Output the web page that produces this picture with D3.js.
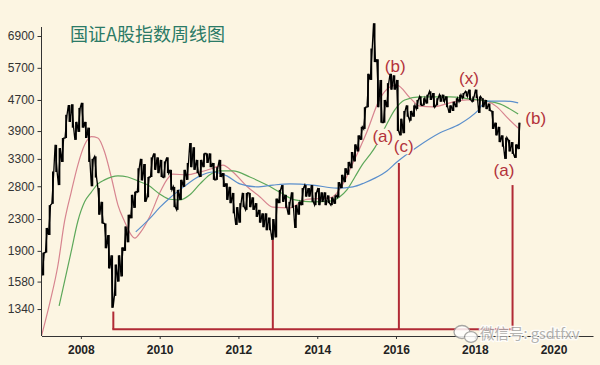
<!DOCTYPE html>
<html><head><meta charset="utf-8">
<script src="https://cdn.jsdelivr.net/npm/d3@7"></script>
<style>body{margin:0;background:#fcf5e2;overflow:hidden}</style>
</head><body>
<svg id="c" width="600" height="365"></svg>
<script>
// ---------- DATA ----------
const months = [
"2007-01","2007-02","2007-03","2007-04","2007-05","2007-06","2007-07","2007-08","2007-09","2007-10","2007-11","2007-12",
"2008-01","2008-02","2008-03","2008-04","2008-05","2008-06","2008-07","2008-08","2008-09","2008-10","2008-11","2008-12",
"2009-01","2009-02","2009-03","2009-04","2009-05","2009-06","2009-07","2009-08","2009-09","2009-10","2009-11","2009-12",
"2010-01","2010-02","2010-03","2010-04","2010-05","2010-06","2010-07","2010-08","2010-09","2010-10","2010-11","2010-12",
"2011-01","2011-02","2011-03","2011-04","2011-05","2011-06","2011-07","2011-08","2011-09","2011-10","2011-11","2011-12",
"2012-01","2012-02","2012-03","2012-04","2012-05","2012-06","2012-07","2012-08","2012-09","2012-10","2012-11","2012-12",
"2013-01","2013-02","2013-03","2013-04","2013-05","2013-06","2013-07","2013-08","2013-09","2013-10","2013-11","2013-12",
"2014-01","2014-02","2014-03","2014-04","2014-05","2014-06","2014-07","2014-08","2014-09","2014-10","2014-11","2014-12",
"2015-01","2015-02","2015-03","2015-04","2015-05","2015-06","2015-07","2015-08","2015-09","2015-10","2015-11","2015-12",
"2016-01","2016-02","2016-03","2016-04","2016-05","2016-06","2016-07","2016-08","2016-09","2016-10","2016-11","2016-12",
"2017-01","2017-02","2017-03","2017-04","2017-05","2017-06","2017-07","2017-08","2017-09","2017-10","2017-11","2017-12",
"2018-01","2018-02","2018-03","2018-04","2018-05","2018-06","2018-07","2018-08","2018-09","2018-10","2018-11","2018-12",
"2019-01","2019-02"];
const highs = [
1880,2180,2500,3060,3590,3520,3740,4300,4560,4580,4120,4480,
4620,4120,3980,3300,3350,2770,2550,2240,2090,1850,1750,1850,
1940,2200,2360,2660,2710,3120,3300,3200,2960,3330,3410,3330,
3280,3250,3330,3090,2790,2740,2910,3090,3220,3630,3540,3280,
3280,3410,3410,3410,3220,3140,3280,3030,2850,2790,2690,2470,
2530,2690,2690,2690,2620,2530,2430,2380,2380,2320,2300,2600,
2740,2820,2660,2550,2700,2500,2550,2770,2820,2770,2820,2700,
2770,2700,2700,2650,2620,2650,2870,3000,3120,3240,3440,3600,
3800,4000,4500,5500,6400,7450,6000,5300,4700,5200,5500,5450,
5300,4200,4400,4550,4400,4550,4700,4800,4750,4850,4950,4900,
4750,4850,4850,4800,4550,4650,4750,4850,4900,4950,5000,4800,
5000,4800,4750,4700,4600,4400,4100,4000,3800,3750,3700,3650,
3600,4100];
const lows = [
1640,1880,2090,2520,3050,2820,3240,3740,4120,3980,3700,3880,
3980,3740,3240,2800,2950,2360,2240,1930,1710,1350,1450,1580,
1630,1900,2000,2310,2460,2700,2900,2550,2620,2960,3090,3030,
2960,2950,3030,2740,2470,2430,2580,2790,2910,3140,3090,3030,
2960,3140,3220,3140,2910,2910,2960,2790,2580,2530,2380,2220,
2250,2470,2430,2470,2430,2330,2250,2190,2150,2150,2030,2060,
2530,2550,2460,2360,2460,2180,2360,2500,2630,2630,2550,2500,
2500,2550,2500,2530,2500,2520,2620,2770,2870,3000,3120,3250,
3450,3700,3950,4500,5300,5900,4500,4100,4100,4500,5000,5000,
3900,3800,3850,4250,4150,4250,4450,4550,4550,4600,4700,4500,
4550,4650,4650,4500,4350,4400,4500,4650,4750,4800,4700,4650,
4750,4350,4500,4450,4400,3950,3800,3650,3550,3300,3450,3400,
3320,3500];

// moving average lines
const maPinkDates = ["2007-01-01","2007-03-19","2007-06-02","2007-08-03","2007-10-03","2007-12-04","2008-02-05","2008-04-06","2008-06-07","2008-08-08","2008-10-09","2008-12-10","2009-02-11","2009-04-12","2009-05-15","2009-07-10","2009-10-02","2010-01-04","2010-03-08","2010-05-02","2010-09-10","2011-01-10","2011-05-08","2011-08-10","2011-11-11","2012-03-19","2012-07-17","2012-11-16","2013-04-21","2013-09-27","2014-04-27","2014-07-29","2014-11-28","2015-04-06","2015-08-04","2015-11-06","2016-01-10","2016-05-10","2016-08-10","2016-12-10","2017-05-15","2017-10-20","2018-02-18","2018-07-25","2018-10-25","2019-02-07"];
const maPinkValues = [1140,1390,1740,2270,2700,3180,3590,3770,3740,3440,2960,2500,2260,2090,2050,2130,2340,2700,2910,3010,3000,3050,3120,3180,3050,2800,2630,2470,2460,2590,2610,2750,3220,3880,4730,5080,5140,4760,4530,4510,4620,4700,4700,4510,4240,3970];

const maGreenDates = ["2007-06-13","2007-10-03","2007-12-04","2008-02-05","2008-04-06","2008-06-07","2008-08-08","2008-12-10","2009-03-11","2009-06-12","2009-09-14","2010-01-04","2010-04-05","2010-07-06","2010-10-08","2011-01-10","2011-04-11","2011-07-12","2011-11-11","2012-04-16","2012-09-22","2013-01-21","2013-06-08","2013-11-22","2014-04-27","2014-07-29","2014-10-03","2014-12-16","2015-02-20","2015-05-03","2015-06-19","2015-09-19","2015-12-21","2016-03-22","2016-08-10","2017-05-15","2017-11-16","2018-04-22","2018-08-21","2019-02-07"];
const maGreenValues = [1365,1890,2270,2550,2700,2840,2910,2980,2960,2890,2820,2670,2590,2580,2660,2840,3000,3070,3070,2960,2820,2700,2580,2550,2560,2630,2740,2960,3180,3380,3530,3970,4430,4700,4790,4790,4730,4670,4590,4320];

const maBlueDates = ["2009-05-24","2009-10-02","2010-01-04","2010-04-05","2010-07-06","2010-10-08","2011-01-10","2011-05-08","2011-09-16","2012-01-15","2012-06-20","2012-11-16","2013-04-21","2013-11-22","2014-07-01","2014-11-28","2015-03-18","2015-06-19","2015-10-09","2016-01-10","2016-07-13","2017-02-13","2017-08-16","2018-01-30","2018-04-20","2018-10-06","2019-02-07"];
const maBlueValues = [2130,2310,2470,2610,2740,2870,2980,3050,2980,2840,2790,2820,2840,2820,2770,2790,2860,2940,3070,3240,3540,3860,4070,4410,4670,4670,4620];

// axis ticks
const yTickValues = [1340,1580,1900,2300,2800,3300,3900,4700,5700,6900];
const xTickYears = [2008,2010,2012,2014,2016,2018,2020];

// wave annotations
const waveLabels = ["(b)","(x)","(b)","(a)","(c)","(a)"];
const waveDates  = ["2015-12-25","2017-11-08","2019-07-20","2015-09-01","2016-03-13","2018-09-28"];
const waveValues = [5760,5360,4210,3770,3560,3070];

// red marker lines (lows) and base
const markerDates  = ["2008-10-28","2012-11-15","2016-01-28","2018-12-17"];
const markerTops   = [1320,2028,3220,2820];
const markerBase   = 1187;

const title = "国证A股指数周线图";
const watermark = "微信号: gsdtfxv";

// ---------- DRAW ----------
const W = 600, H = 365;
const svg = d3.select("#c");
svg.append("rect").attr("width",W).attr("height",H).attr("fill","#fcf5e2");

const parseD = d3.timeParse("%Y-%m-%d");
const parseM = d3.timeParse("%Y-%m");
const x = d3.scaleTime().domain([new Date(2007,0,1), new Date(2021,0,1)]).range([41.5, 593]);
const y = d3.scaleLog().domain([1139.8, 7283]).range([336, 27]);

svg.append("defs").append("clipPath").attr("id","plot")
  .append("rect").attr("x",41.5).attr("y",0).attr("width",552).attr("height",336);

// title
svg.append("text").attr("x",70).attr("y",41)
  .attr("font-family","'Noto Sans CJK SC', sans-serif").attr("font-size",18)
  .attr("fill","#2b7a66").text(title);

// moving averages
const line = d3.line().x(d=>x(d[0])).y(d=>y(d[1])).curve(d3.curveMonotoneX);
const mas = [
  [maPinkDates, maPinkValues, "#d7848f"],
  [maGreenDates, maGreenValues, "#5da85a"],
  [maBlueDates, maBlueValues, "#5b8fcc"]
];
const gMA = svg.append("g").attr("clip-path","url(#plot)");
mas.forEach(([ds, vs, col])=>{
  gMA.append("path").datum(ds.map((d,i)=>[parseD(d), vs[i]]))
    .attr("d", line).attr("fill","none").attr("stroke",col).attr("stroke-width",1.2);
});

// label backgrounds
const labelG = svg.append("g");
const fontLab = "'Liberation Sans', Arial, sans-serif";
labelG.selectAll("rect").data(waveLabels).join("rect")
  .attr("x",(d,i)=>x(parseD(waveDates[i]))-10)
  .attr("y",(d,i)=>y(waveValues[i])-8)
  .attr("width",20).attr("height",16).attr("fill","#fcf5e2");

// price
const gP = svg.append("g");
const zz = [];
months.forEach((m,i)=>{
  const d0 = parseM(m), d1 = d3.timeMonth.offset(d0,1);
  const x0 = x(d0), x1 = x(d1), w = x1-x0;
  const mid = (highs[i]+lows[i]);
  const nextMid = i < months.length-1 ? highs[i+1]+lows[i+1] : mid + 1;
  gP.append("rect").attr("x", x0 + w*0.25).attr("width", w*0.55)
    .attr("y", y(highs[i])).attr("height", y(lows[i]) - y(highs[i])).attr("fill","#000");
  if (nextMid > mid) { zz.push([x0+w*0.2, y(lows[i])]); zz.push([x0+w*0.8, y(highs[i])]); }
  else { zz.push([x0+w*0.2, y(highs[i])]); zz.push([x0+w*0.8, y(lows[i])]); }
});
gP.append("path").attr("d", d3.line()(zz)).attr("fill","none").attr("stroke","#000").attr("stroke-width",1.3);

// labels
labelG.selectAll("text").data(waveLabels).join("text")
  .attr("x",(d,i)=>x(parseD(waveDates[i])))
  .attr("y",(d,i)=>y(waveValues[i]))
  .attr("text-anchor","middle").attr("dominant-baseline","central")
  .attr("font-family",fontLab).attr("font-size",17).attr("fill","#b3323b")
  .text(d=>d);

// red marker lines
const red = "#b12a35";
const gR = svg.append("g");
markerDates.forEach((d,i)=>{
  const xx = x(parseD(d));
  gR.append("line").attr("x1",xx).attr("x2",xx).attr("y1",y(markerTops[i])).attr("y2",y(markerBase))
    .attr("stroke",red).attr("stroke-width",2);
});
gR.append("line").attr("x1",x(parseD(markerDates[0]))-1).attr("x2",x(parseD(markerDates[markerDates.length-1]))+1)
  .attr("y1",y(markerBase)).attr("y2",y(markerBase)).attr("stroke",red).attr("stroke-width",2);

// axes
const yAxis = d3.axisLeft(y).tickValues(yTickValues).tickFormat(d3.format("d")).tickSize(4).tickPadding(3).tickSizeOuter(0);
const gy = svg.append("g").attr("transform","translate(41.5,0)").call(yAxis);
gy.select(".domain").attr("d","M0,27V336").attr("stroke","#333");
gy.selectAll(".tick line").attr("stroke","#333");
gy.selectAll("text").attr("font-family",fontLab).attr("font-size",12).attr("fill","#333");

const xAxis = d3.axisBottom(x).tickValues(xTickYears.map(yy=>new Date(yy,0,1)))
  .tickFormat(d3.timeFormat("%Y")).tickSize(3).tickPadding(6).tickSizeOuter(0);
const gx = svg.append("g").attr("transform","translate(0,336)").call(xAxis);
gx.select(".domain").attr("stroke","#333");
gx.selectAll(".tick line").attr("stroke","#333");
gx.selectAll("text").attr("font-family",fontLab).attr("font-size",12).attr("font-weight","bold").attr("fill","#222");

// watermark
const wm = svg.append("g").attr("opacity",0.85);
wm.append("ellipse").attr("cx",462).attr("cy",332).attr("rx",8).attr("ry",6.5)
  .attr("fill","#fff").attr("stroke","#999").attr("stroke-width",1.3);
wm.append("ellipse").attr("cx",471).attr("cy",337).attr("rx",6.5).attr("ry",5.3)
  .attr("fill","#fff").attr("stroke","#999").attr("stroke-width",1.3);
wm.append("text").attr("x",480).attr("y",339)
  .attr("font-family","'Noto Sans CJK SC', sans-serif").attr("font-size",14.5)
  .attr("fill","#a8a8a8").attr("stroke","#fff").attr("stroke-width",2.5).attr("paint-order","stroke")
  .text(watermark);
</script>
</body></html>
